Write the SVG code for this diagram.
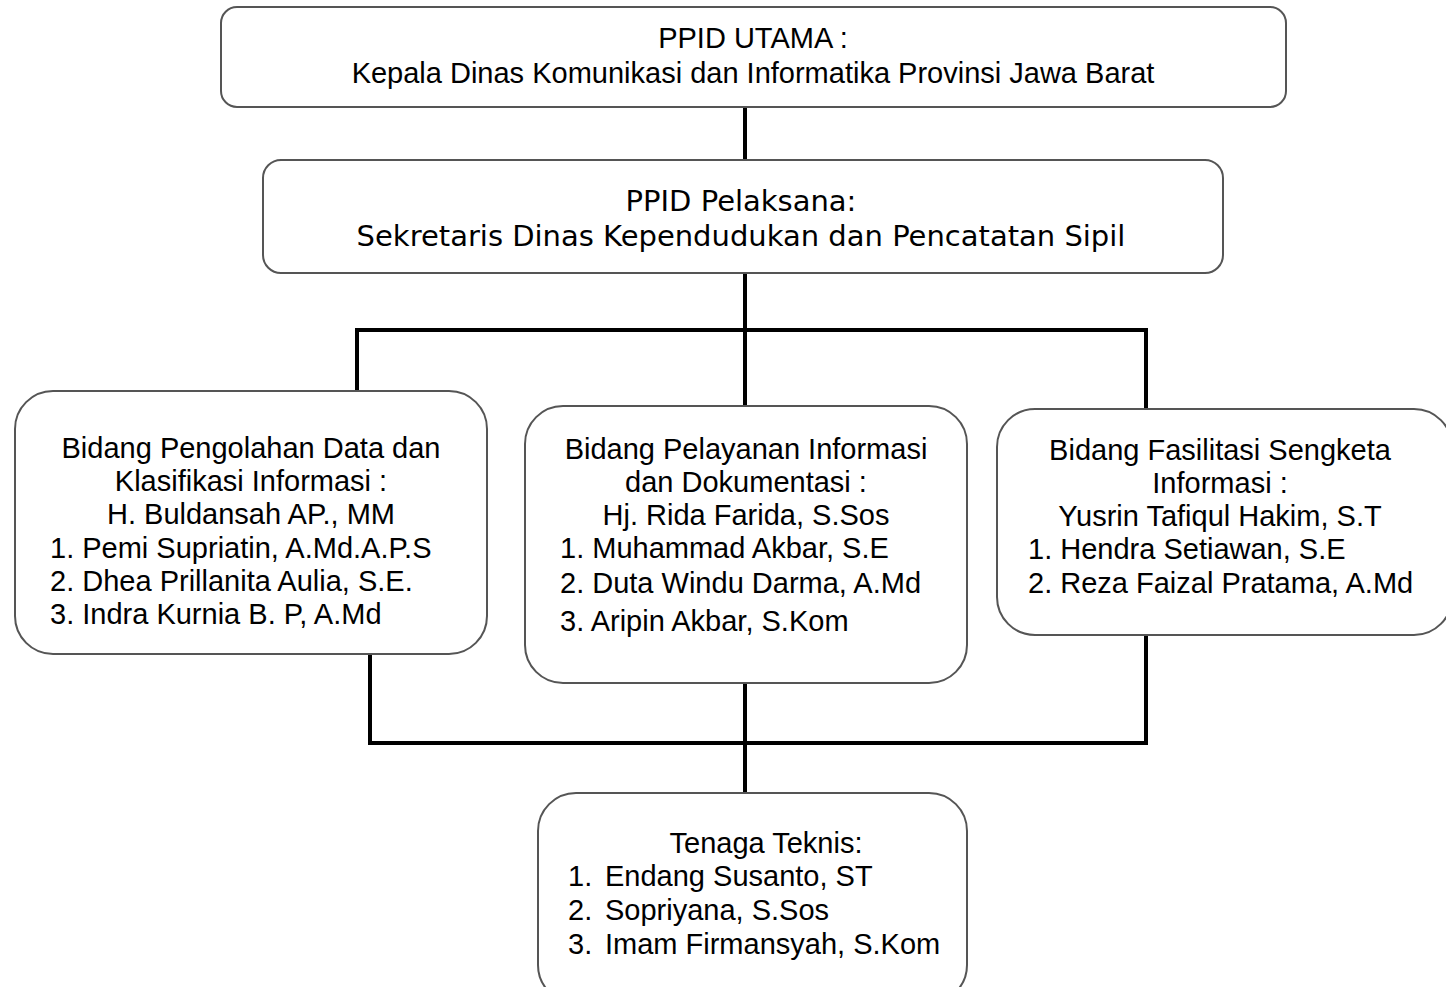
<svg xmlns="http://www.w3.org/2000/svg" width="1446" height="987" viewBox="0 0 1446 987">
<style>
.box{fill:#fff;stroke:#555;stroke-width:2}
.t{font-family:"Liberation Sans",Arial,sans-serif;font-size:29px;fill:#000}
.v{font-family:"DejaVu Sans",Verdana,sans-serif;font-size:29px;fill:#000}
.c{text-anchor:middle}
.conn{stroke:#000;stroke-width:4;fill:none;stroke-linecap:square}
</style>
<rect width="1446" height="987" fill="#fff"/>
<g id="connectors">
<path class="conn" d="M745,107 V160"/>
<path class="conn" d="M745,273 V330"/>
<path class="conn" d="M357,330 H1146"/>
<path class="conn" d="M357,330 V391"/>
<path class="conn" d="M745,330 V406"/>
<path class="conn" d="M1146,330 V409"/>
<path class="conn" d="M370,654 V743"/>
<path class="conn" d="M1146,635 V743"/>
<path class="conn" d="M370,743 H1146"/>
<path class="conn" d="M745,683 V793"/>
</g>
<g id="ppid-utama">
<rect class="box" x="221" y="7" width="1065" height="100" rx="16"/>
<text class="t c" x="753" y="48">PPID UTAMA :</text>
<text class="t c" x="753" y="83">Kepala Dinas Komunikasi dan Informatika Provinsi Jawa Barat</text>
</g>
<g id="ppid-pelaksana">
<rect class="box" x="263" y="160" width="960" height="113" rx="18"/>
<text class="v c" x="741" y="211">PPID Pelaksana:</text>
<text class="v c" x="741" y="246">Sekretaris Dinas Kependudukan dan Pencatatan Sipil</text>
</g>
<g id="bidang-pengolahan">
<rect class="box" x="15" y="391" width="472" height="263" rx="38"/>
<text class="t c" x="251" y="458">Bidang Pengolahan Data dan</text>
<text class="t c" x="251" y="491">Klasifikasi Informasi :</text>
<text class="t c" x="251" y="524">H. Buldansah AP., MM</text>
<text class="t" x="50" y="558">1. Pemi Supriatin, A.Md.A.P.S</text>
<text class="t" x="50" y="591">2. Dhea Prillanita Aulia, S.E.</text>
<text class="t" x="50" y="624">3. Indra Kurnia B. P, A.Md</text>
</g>
<g id="bidang-pelayanan">
<rect class="box" x="525" y="406" width="442" height="277" rx="38"/>
<text class="t c" x="746" y="459">Bidang Pelayanan Informasi</text>
<text class="t c" x="746" y="492">dan Dokumentasi :</text>
<text class="t c" x="746" y="525">Hj. Rida Farida, S.Sos</text>
<text class="t" x="560" y="558">1. Muhammad Akbar, S.E</text>
<text class="t" x="560" y="593">2. Duta Windu Darma, A.Md</text>
<text class="t" x="560" y="631">3. Aripin Akbar, S.Kom</text>
</g>
<g id="bidang-fasilitasi">
<rect class="box" x="997" y="409" width="455" height="226" rx="38"/>
<text class="t c" x="1220" y="460">Bidang Fasilitasi Sengketa</text>
<text class="t c" x="1220" y="493">Informasi :</text>
<text class="t c" x="1220" y="526">Yusrin Tafiqul Hakim, S.T</text>
<text class="t" x="1028" y="559">1. Hendra Setiawan, S.E</text>
<text class="t" x="1028" y="593">2. Reza Faizal Pratama, A.Md</text>
</g>
<g id="tenaga-teknis">
<rect class="box" x="538" y="793" width="429" height="210" rx="38"/>
<text class="t c" x="766" y="853">Tenaga Teknis:</text>
<text class="t" x="568" y="886">1.</text><text class="t" x="605" y="886">Endang Susanto, ST</text>
<text class="t" x="568" y="920">2.</text><text class="t" x="605" y="920">Sopriyana, S.Sos</text>
<text class="t" x="568" y="954">3.</text><text class="t" x="605" y="954">Imam Firmansyah, S.Kom</text>
</g>
</svg>
